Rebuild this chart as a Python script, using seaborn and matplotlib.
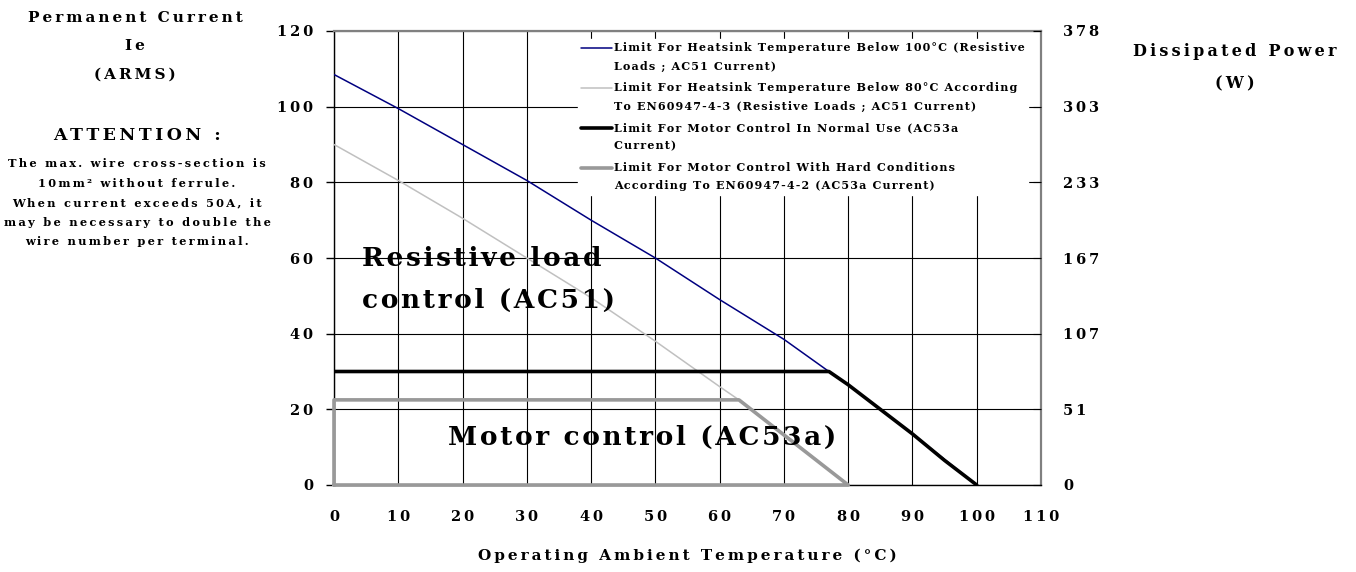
import numpy as np
import pandas as pd
import matplotlib
matplotlib.use("Agg")
import matplotlib.pyplot as plt
import seaborn as sns
from matplotlib.lines import Line2D
from matplotlib.legend_handler import HandlerLine2D

# curves (temperature in °C, current in A)
heatsink100_x = [0, 10, 20, 30, 40, 50, 60, 70, 77, 80, 90, 100]
heatsink100_y = [108.5, 99.5, 90, 80.5, 70, 60, 49, 38.5, 30, 26.5, 13.5, 0]

heatsink80_x = [0, 10, 20, 30, 40, 50, 60, 63, 70, 80]
heatsink80_y = [90, 80.5, 70.5, 60, 49.5, 38, 26, 22.5, 13.5, 0]

motor_normal_x = [0, 77, 80, 85, 90, 95, 100]
motor_normal_y = [30, 30, 26.5, 20, 13.5, 6.5, 0]

motor_hard_x = [0, 0, 63, 80, 0]
motor_hard_y = [0, 22.5, 22.5, 0, 0]

y_ticks = [0, 20, 40, 60, 80, 100, 120]
x_ticks = [0, 10, 20, 30, 40, 50, 60, 70, 80, 90, 100, 110]
power_labels = ["0", "51", "107", "167", "233", "303", "378"]

labels = [
    "Limit For Heatsink Temperature Below 100°C (Resistive\nLoads ; AC51 Current)",
    "Limit For Heatsink Temperature Below 80°C According\nTo EN60947-4-3 (Resistive Loads ; AC51 Current)",
    "Limit For Motor Control In Normal Use (AC53a\nCurrent)",
    "Limit For Motor Control With Hard Conditions\nAccording To EN60947-4-2 (AC53a Current)",
]

THIN = "\u2009"
HAIR = "\u200a"


def spaced(s, sep=THIN):
    # the original uses wide letter spacing
    return "\n".join(sep.join(line) for line in s.split("\n"))


class RaisedLine(HandlerLine2D):
    # legend line sits on the first text row, not in the middle
    def create_artists(self, *args, **kwargs):
        artists = super().create_artists(*args, **kwargs)
        for a in artists:
            a.set_ydata([y + 6.8 for y in a.get_ydata()])
        return artists


sns.set_style("white")
plt.rcParams["font.family"] = ["DejaVu Serif", "DejaVu Sans"]
plt.rcParams["font.weight"] = "bold"
for k in ["text.color", "axes.labelcolor", "xtick.color", "ytick.color"]:
    plt.rcParams[k] = "black"

W, H = 1356, 572
fig = plt.figure(figsize=(W / 100, H / 100), dpi=100)
ax = fig.add_axes([334 / W, 1 - 485 / H, (1041 - 334) / W, (485 - 31) / H])

sns.lineplot(x=heatsink100_x, y=heatsink100_y, ax=ax, color="#000080", lw=1.1,
             sort=False, estimator=None, label=spaced(labels[0], HAIR), zorder=3)
sns.lineplot(x=heatsink80_x, y=heatsink80_y, ax=ax, color="#c0c0c0", lw=1.1,
             sort=False, estimator=None, label=spaced(labels[1], HAIR), zorder=3)
sns.lineplot(x=motor_normal_x, y=motor_normal_y, ax=ax, color="black", lw=2.6,
             sort=False, estimator=None, label=spaced(labels[2], HAIR), zorder=3)
sns.lineplot(x=motor_hard_x, y=motor_hard_y, ax=ax, color="#999999", lw=2.6,
             sort=False, estimator=None, label=spaced(labels[3], HAIR),
             zorder=3, clip_on=False)

ax.set_xlim(0, 110)
ax.set_ylim(0, 120)
ax.set_xticks(x_ticks)
ax.set_xticklabels([spaced(str(v)) for v in x_ticks])
ax.set_yticks(y_ticks)
ax.set_yticklabels([spaced(str(v)) for v in y_ticks])
ax.grid(True, color="black", lw=0.8)
ax.set_axisbelow(True)
for s in ["left", "bottom"]:
    ax.spines[s].set_color("black")
    ax.spines[s].set_linewidth(1.0)
for s in ["top", "right"]:
    ax.spines[s].set_color("#808080")
    ax.spines[s].set_linewidth(1.6)
ax.tick_params(axis="both", direction="out", length=6, width=1, labelsize=10.5)
ax.tick_params(axis="y", pad=9)
ax.tick_params(axis="x", pad=12)
for t in ax.get_xticklabels() + ax.get_yticklabels():
    t.set_fontweight("bold")

ax.set_xlabel(spaced("Operating Ambient Temperature (°C)"), fontsize=11,
              fontweight="bold", labelpad=18)
ax.set_ylabel("")

ax2 = ax.twinx()
ax2.set_ylim(0, 120)
ax2.set_yticks(y_ticks)
ax2.set_yticklabels([spaced(p) for p in power_labels], fontsize=10.5, fontweight="bold")
ax2.tick_params(axis="y", direction="in", length=6, pad=16)
for s in ax2.spines.values():
    s.set_visible(False)

handles, texts = ax.get_legend_handles_labels()
leg = ax.legend(handles, texts, loc="upper left", bbox_to_anchor=(0.345, 0.983),
                frameon=True, fontsize=8, handlelength=2.8, handletextpad=0.15,
                labelspacing=0.92, borderpad=0.3, borderaxespad=0,
                handler_map={Line2D: RaisedLine()})
leg.get_frame().set_edgecolor("white")
leg.get_frame().set_facecolor("white")
leg.get_frame().set_alpha(1)
leg.set_zorder(5)
for t in leg.get_texts():
    t.set_linespacing(1.84)
    t.set_fontweight("bold")

# region labels
ax.text(4.4, 54.3, spaced("Resistive load\ncontrol (AC51)", HAIR), fontsize=19,
        fontweight="bold", va="center", ha="left", linespacing=1.87, zorder=6)
ax.text(17.8, 12.6, spaced("Motor control (AC53a)", HAIR), fontsize=19,
        fontweight="bold", va="center", ha="left", zorder=6)

# side texts
fig.text(135 / W, 1 - 11 / H, spaced("Permanent Current\nIe\n(ARMS)"), ha="center",
         va="top", fontsize=11, fontweight="bold", linespacing=2.3)
fig.text(137 / W, 1 - 135 / H, spaced("ATTENTION :"), ha="center", va="center",
         fontsize=12.5, fontweight="bold")
fig.text(137 / W, 1 - 158 / H,
         spaced("The max. wire cross-section is\n10mm² without ferrule.\nWhen current exceeds 50A, it\n"
                "may be necessary to double the\nwire number per terminal."),
         ha="center", va="top", fontsize=8.2, fontweight="bold", linespacing=1.95)
fig.text(1235 / W, 1 - 43 / H, spaced("Dissipated Power\n(W)"), ha="center", va="top",
         fontsize=11.5, fontweight="bold", linespacing=2.2)

fig.savefig("out.png", dpi=100)
